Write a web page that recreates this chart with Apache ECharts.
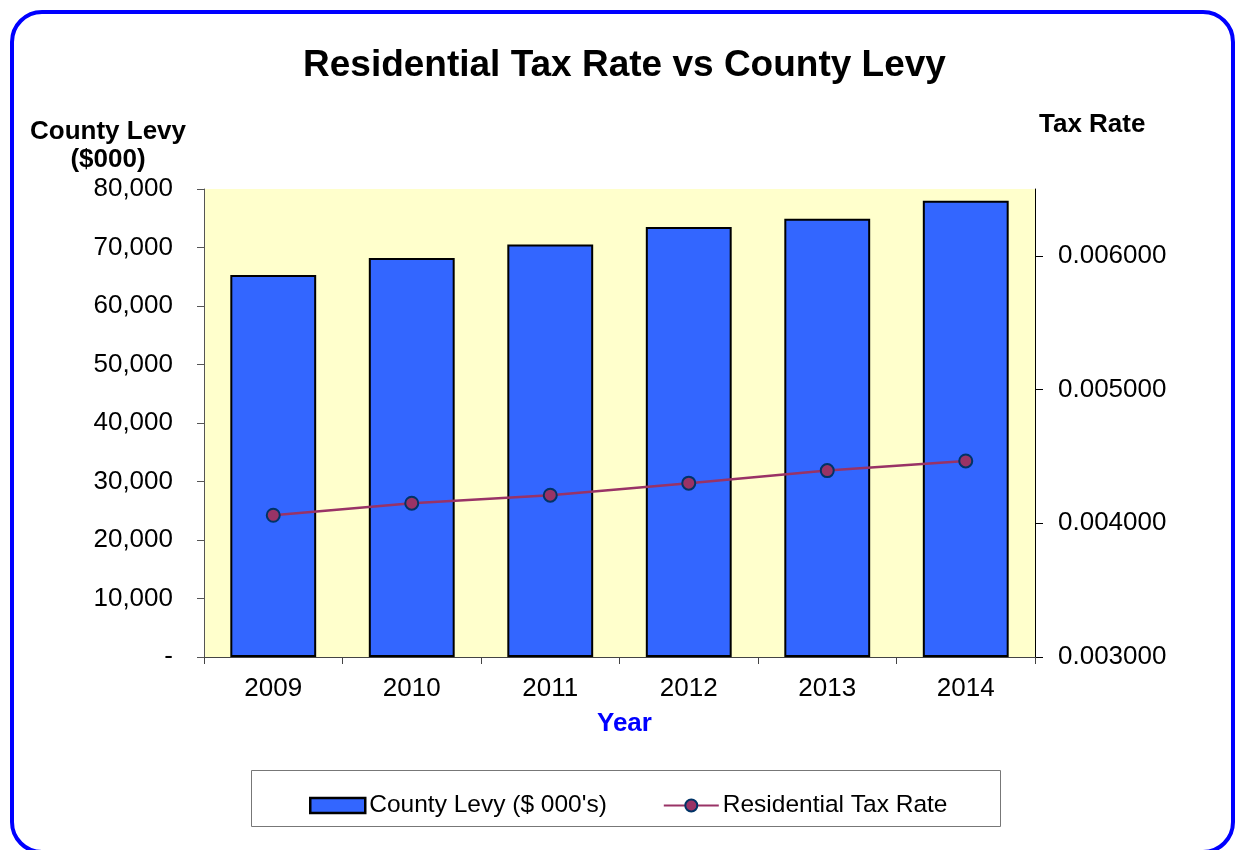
<!DOCTYPE html>
<html>
<head>
<meta charset="utf-8">
<script src="https://cdn.jsdelivr.net/npm/echarts@6/dist/echarts.min.js"></script>
<style>
html,body{margin:0;padding:0;background:#fff;}
#main{width:1237px;height:850px;}
</style>
</head>
<body>
<div id="main"></div>
<script>
var years = ['2009', '2010', '2011', '2012', '2013', '2014'];
var countyLevy = [65300, 68200, 70500, 73500, 74900, 78000];
var taxRate = [0.004060, 0.004150, 0.004210, 0.004300, 0.004394, 0.004466];
var levyTicks = [0, 10000, 20000, 30000, 40000, 50000, 60000, 70000, 80000];
var rateTicks = [0.003, 0.004, 0.005, 0.006];

var FONT = '"Liberation Sans", Arial, sans-serif';
var chart = echarts.init(document.getElementById('main'), null, {renderer: 'canvas'});

chart.setOption({
  animation: false,
  backgroundColor: '#ffffff',
  textStyle: {fontFamily: FONT},
  title: {
    text: 'Residential Tax Rate vs County Levy',
    left: 298,
    top: 42,
    textStyle: {fontFamily: FONT, fontSize: 37, fontWeight: 'bold', color: '#000'}
  },
  graphic: [
    {type: 'rect', z: 0, silent: true,
     shape: {x: 12, y: 12, width: 1221, height: 840, r: 30},
     style: {fill: 'none', stroke: '#0000FF', lineWidth: 4}},
    {type: 'rect', z: 0, silent: true,
     shape: {x: 251.5, y: 770.5, width: 749, height: 56},
     style: {fill: '#ffffff', stroke: '#777777', lineWidth: 1}},
    {type: 'text', z: 10, x: 108, y: 118,
     style: {text: 'County Levy', fontFamily: FONT, fontSize: 26, fontWeight: 'bold', fill: '#000', align: 'center', verticalAlign: 'top', lineHeight: 28}},
    {type: 'text', z: 10, x: 108, y: 146,
     style: {text: '($000)', fontFamily: FONT, fontSize: 26, fontWeight: 'bold', fill: '#000', align: 'center', verticalAlign: 'top', lineHeight: 28}},
    {type: 'text', z: 10, x: 1039, y: 111,
     style: {text: 'Tax Rate', fontFamily: FONT, fontSize: 26, fontWeight: 'bold', fill: '#000', verticalAlign: 'top', lineHeight: 28}},
    {type: 'text', z: 10, x: 597, y: 710,
     style: {text: 'Year', fontFamily: FONT, fontSize: 26, fontWeight: 'bold', fill: '#0000FF', verticalAlign: 'top', lineHeight: 28}}
  ],
  legend: {
    left: 304,
    top: 788,
    itemWidth: 55,
    itemHeight: 15,
    itemGap: 56,
    textStyle: {fontFamily: FONT, fontSize: 24.5, color: '#000', padding: [0, 0, 0, -1]},
    data: [
      {name: "County Levy ($ 000's)", icon: 'rect', itemStyle: {borderColor: '#000', borderWidth: 2.5}},
      {name: 'Residential Tax Rate'}
    ]
  },
  grid: {
    left: 204, right: 202, top: 189, bottom: 193,
    show: true, backgroundColor: '#FFFFCC', borderWidth: 0
  },
  xAxis: {
    type: 'category',
    data: years,
    axisLine: {show: true, lineStyle: {color: '#444', width: 1}},
    axisTick: {show: true, alignWithLabel: false, length: 7, lineStyle: {color: '#444'}},
    axisLabel: {fontFamily: FONT, fontSize: 26, color: '#000', margin: 19},
    splitLine: {show: false}
  },
  yAxis: [
    {
      type: 'value', min: 0, max: 80000, interval: 10000,
      axisLine: {show: true, lineStyle: {color: '#555', width: 1}},
      axisTick: {show: true, length: 7, lineStyle: {color: '#555'}},
      splitLine: {show: false},
      axisLabel: {
        fontFamily: FONT, fontSize: 26, color: '#000', margin: 31,
        customValues: levyTicks,
        formatter: function (v) { return v === 0 ? '-' : v.toLocaleString('en-US'); }
      }
    },
    {
      type: 'value', min: 0.003, max: 0.0065, interval: 0.001,
      position: 'right',
      axisLine: {show: true, lineStyle: {color: '#000', width: 1}},
      axisTick: {show: true, length: 8, customValues: rateTicks, lineStyle: {color: '#000'}},
      splitLine: {show: false},
      axisLabel: {
        fontFamily: FONT, fontSize: 26, color: '#000', margin: 23,
        customValues: rateTicks,
        formatter: function (v) { return v.toFixed(6); }
      }
    }
  ],
  series: [
    {
      name: "County Levy ($ 000's)",
      type: 'bar',
      yAxisIndex: 0,
      data: countyLevy,
      barWidth: '62%',
      itemStyle: {color: '#3366FF', borderColor: '#000', borderWidth: 2}
    },
    {
      name: 'Residential Tax Rate',
      type: 'line',
      yAxisIndex: 1,
      data: taxRate,
      symbol: 'circle',
      symbolSize: 13,
      lineStyle: {color: '#993366', width: 2.5},
      itemStyle: {color: '#993366', borderColor: '#003366', borderWidth: 2}
    }
  ]
});
</script>
</body>
</html>
